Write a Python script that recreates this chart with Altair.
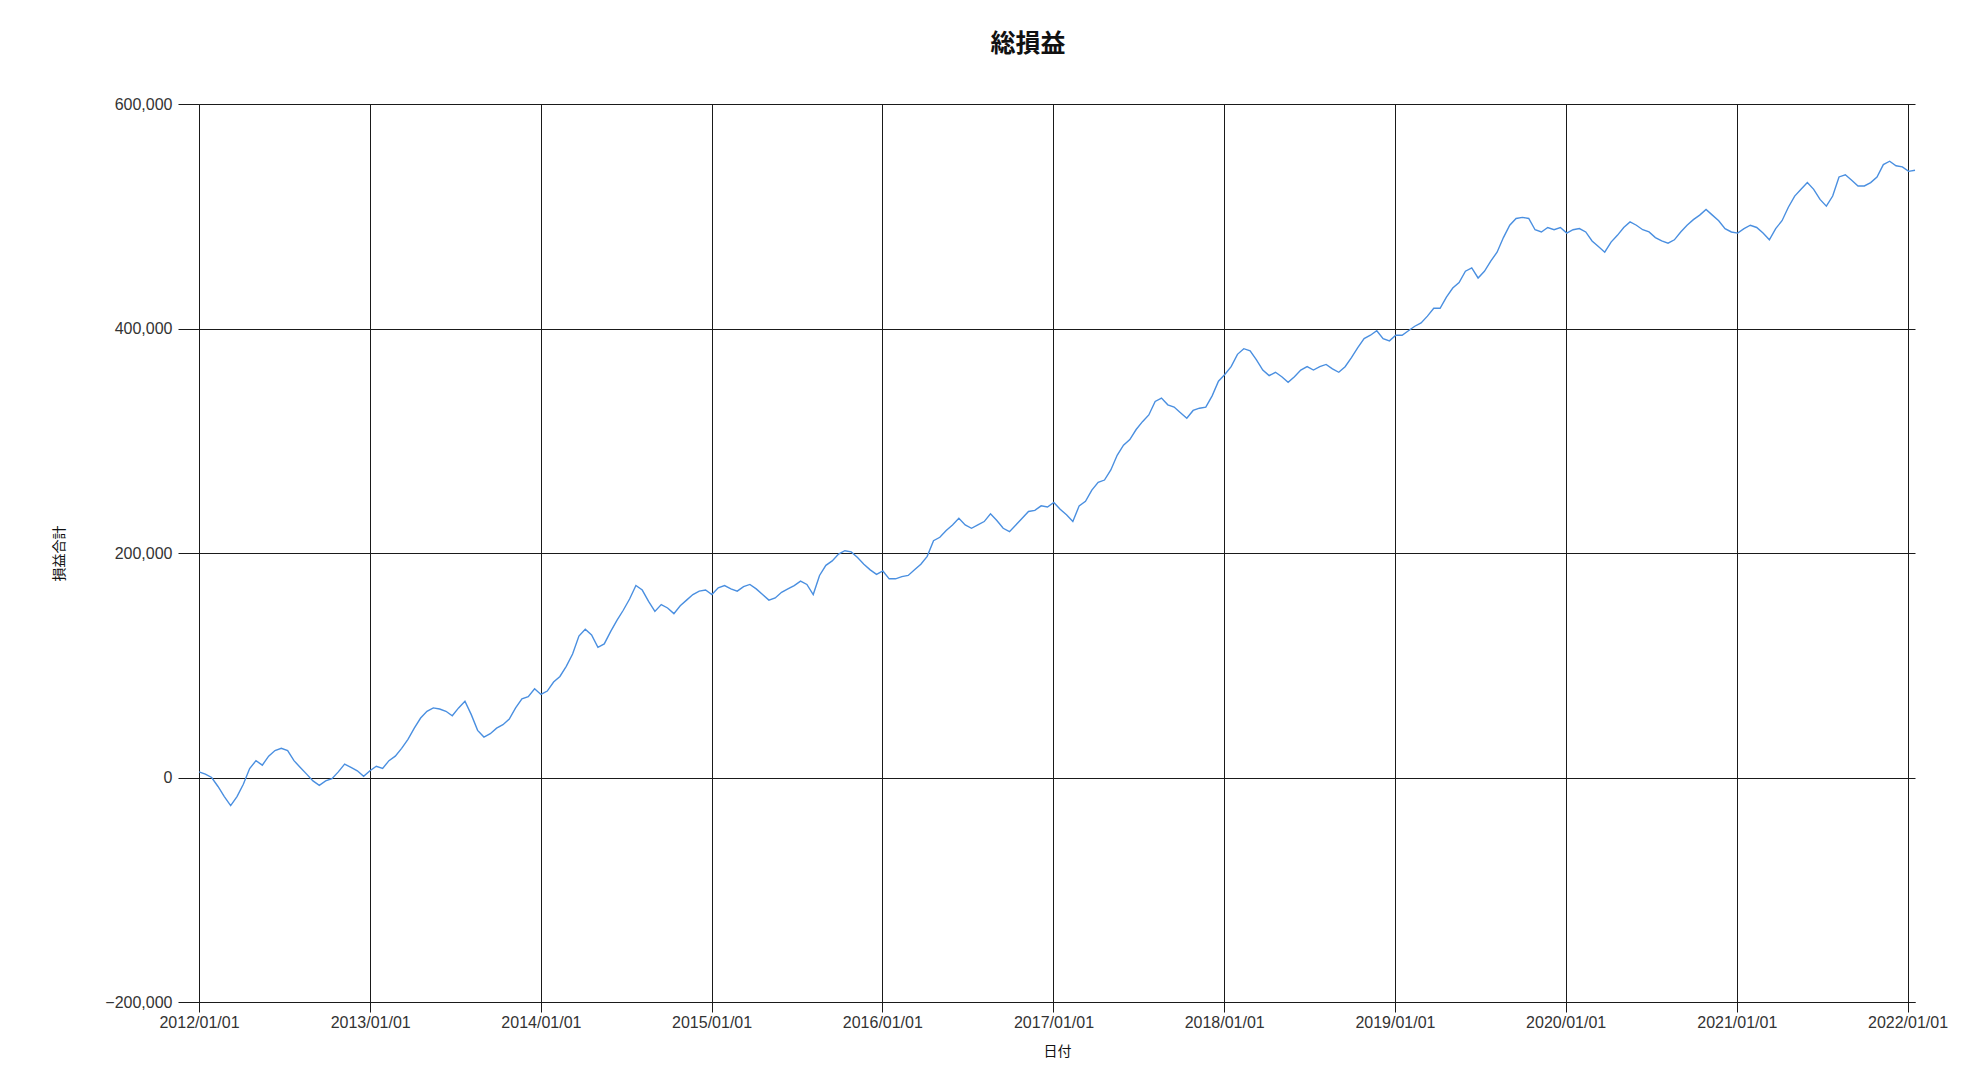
import altair as alt
import pandas as pd

# 損益合計 (thousands of yen) at roughly two-week steps
pnl_k = [
    5, 3, 0, -8, -17, -25, -17, -6, 8, 15, 11, 19, 24, 26, 24, 15, 9, 3, -3, -7,
    -3, -1, 5, 12, 9, 6, 1, 6, 10, 8, 15, 19, 26, 34, 44, 53, 59, 62, 61, 59,
    55, 62, 68, 56, 42, 36, 39, 44, 47, 52, 62, 70, 72, 79, 74, 77, 85, 90, 99, 110,
    126, 132, 127, 116, 119, 130, 140, 149, 159, 171, 167, 157, 148, 154, 151, 146, 153, 158, 163, 166,
    167, 163, 169, 171, 168, 166, 170, 172, 168, 163, 158, 160, 165, 168, 171, 175, 172, 163, 180, 189,
    193, 199, 202, 201, 196, 190, 185, 181, 184, 177, 177, 179, 180, 185, 190, 197, 211, 214, 220, 225,
    231, 225, 222, 225, 228, 235, 229, 222, 219, 225, 231, 237, 238, 242, 241, 245, 239, 234, 228, 242,
    246, 256, 263, 265, 274, 287, 296, 301, 310, 317, 323, 335, 338, 332, 330, 325, 320, 327, 329, 330,
    340, 353, 359, 366, 377, 382, 380, 372, 363, 358, 361, 357, 352, 357, 363, 366, 363, 366, 368, 364,
    361, 366, 374, 383, 391, 394, 398, 391, 389, 394, 394, 398, 402, 405, 411, 418, 418, 428, 436, 441,
    451, 454, 445, 451, 460, 468, 481, 492, 498, 499, 498, 488, 486, 490, 488, 490, 485, 488, 489, 486,
    478, 473, 468, 477, 483, 490, 495, 492, 488, 486, 481, 478, 476, 479, 486, 492, 497, 501, 506, 501,
    496, 489, 486, 485, 489, 492, 490, 485, 479, 489, 496, 508, 518, 524, 530, 524, 515, 509, 518, 535,
    537, 532, 527, 527, 530, 535, 546, 549, 545, 544, 540, 541,
]
first_day = "2012-01-01"
last_day = "2022-01-17"
year_ticks = list(range(2012, 2023))
y_ticks = [-200000, 0, 200000, 400000, 600000]

dates = pd.date_range(first_day, last_day, periods=len(pnl_k))
df = pd.DataFrame({"日付": dates, "損益合計": [v * 1000 for v in pnl_k]})

x_vals = [alt.DateTime(year=y, month=1, date=1) for y in year_ticks]

chart = alt.Chart(df).mark_line(color="#4A8FE0", strokeWidth=1.4).encode(
    x=alt.X(
        "日付:T",
        scale=alt.Scale(domain=[alt.DateTime(year=2012, month=1, date=1),
                                alt.DateTime(year=2022, month=1, date=17)], nice=False),
        axis=alt.Axis(
            values=x_vals, format="%Y/%m/%d", title="日付",
            tickSize=10, labelPadding=2, titlePadding=14,
            labelAngle=0, labelFlush=False,
        ),
    ),
    y=alt.Y(
        "損益合計:Q",
        scale=alt.Scale(domain=[-200000, 600000], nice=False, zero=False),
        axis=alt.Axis(
            values=y_ticks, format=",d", title="損益合計",
            tickSize=21, labelPadding=6, titlePadding=38, labelFlush=False,
        ),
    ),
).properties(
    width=1716,
    height=898,
    title=alt.TitleParams("総損益", fontSize=25, font="Noto Sans CJK JP", fontWeight="bold",
                          color="#111111", dx=-29, offset=39),
    autosize=alt.AutoSizeParams(type="none"),
    padding={"left": 191, "top": 96, "right": 40, "bottom": 64},
).configure_axis(
    gridColor="#1a1a1a", gridWidth=1, gridOpacity=1,
    domainColor="#1a1a1a", tickColor="#1a1a1a",
    labelFont="Liberation Sans", labelFontSize=16, labelColor="#333333",
    titleFont="Noto Sans CJK JP", titleFontSize=14, titleFontWeight="normal", titleColor="#111111",
).configure_view(stroke="transparent")

chart.save("out.html", embed_options={"renderer": "svg", "actions": False})
